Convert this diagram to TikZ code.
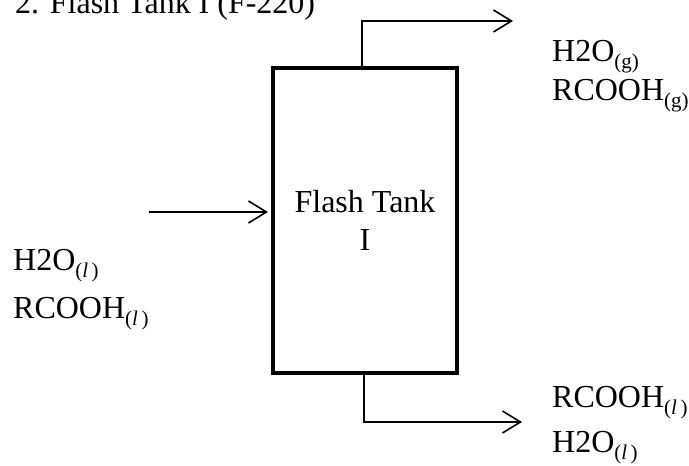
\documentclass[tikz,border=0pt]{standalone}
\usepackage{fontspec}
\setmainfont{Liberation Serif}
\usepackage{tikz}
\usetikzlibrary{arrows.meta,positioning,calc}
\newcommand{\phs}[1]{\raisebox{-7pt}{\fontsize{21}{21}\selectfont(#1)}}
\newcommand{\liq}{\textit{l}\,}

\begin{document}
\begin{tikzpicture}[
			x=1pt,y=-1pt,
			every node/.style={font=\fontsize{32}{38}\selectfont,align=left},
			tank/.style={draw=black,line width=4pt,minimum width=184pt,minimum height=305pt,align=center,inner sep=0pt},
			lbl/.style={anchor=base west,inner sep=0pt},
			flow/.style={-{Straight Barb[length=18pt,width=22pt]},line width=1.6pt,draw=black}
			]
			\useasboundingbox[fill=white] (0,0) rectangle (689,466);
			\node[lbl] (title) at (15,13) {2. Flash Tank I (F-220)};
			\node[tank] (tank) at (365,220.5) {Flash Tank\\I};
			% streams
			\coordinate (feed) at (149,212);
			\coordinate (vapour) at (513,21);
			\coordinate (liquid) at (522,422);
			\node[lbl] (fin1) at (13,270) {H2O\phs{\liq}};
			\node[lbl] (fin2) at (13,318) {RCOOH\phs{\liq}};
			\node[lbl] (vout1) at (552,61) {H2O\phs{g}};
			\node[lbl] (vout2) at (552,100) {RCOOH\phs{g}};
			\node[lbl] (lout1) at (552,407) {RCOOH\phs{\liq}};
			\node[lbl] (lout2) at (552,452) {H2O\phs{\liq}};
			\draw[flow,shorten >=3pt] (feed) -- (feed -| tank.west);
			\draw[flow] ([xshift=-3pt,yshift=-2pt]tank.north) |- (vapour);
			\draw[flow] ([xshift=-1pt,yshift=1pt]tank.south) |- (liquid);
		\end{tikzpicture}
\end{document}
